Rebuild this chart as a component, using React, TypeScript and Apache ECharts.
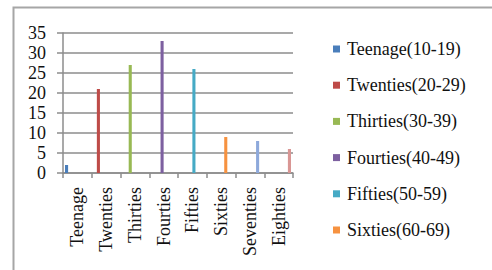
import React, { useEffect, useRef } from "react";
import * as echarts from "echarts";

const categories = ["Teenage", "Twenties", "Thirties", "Fourties", "Fifties", "Sixties", "Seventies", "Eighties"];
const seriesNames = [
  "Teenage(10-19)",
  "Twenties(20-29)",
  "Thirties(30-39)",
  "Fourties(40-49)",
  "Fifties(50-59)",
  "Sixties(60-69)",
  "Seventies(70-79)",
  "Eighties(80-89)",
];
const values = [2, 21, 27, 33, 26, 9, 8, 6];
const colors = ["#4A7EBB", "#BE4B48", "#98B954", "#7D60A0", "#46AAC5", "#F69240", "#8EA9DB", "#D99694"];
const legendShownCount = 6;
const yTicks = { min: 0, max: 35, interval: 5 };

const FONT = "Liberation Serif";

export default function App() {
  const ref = useRef<HTMLDivElement>(null);
  useEffect(() => {
    if (!ref.current) return;
    const chart = echarts.init(ref.current, null, { renderer: "svg" });
    const series = seriesNames.map((name, i) => ({
      name,
      type: "bar",
      data: values.map((v, j) => (j === i ? v : "-")),
      itemStyle: { color: colors[i] },
      barGap: "0%",
      barCategoryGap: "14%",
    }));
    const legendTop = 49;
    const legendStep = 36.2;
    const legendItems: any[] = [];
    for (let i = 0; i < legendShownCount; i++) {
      const cy = legendTop + legendStep * i;
      legendItems.push({
        type: "rect",
        shape: { x: 333, y: cy - 3.5, width: 7, height: 7 },
        style: { fill: colors[i] },
        silent: true,
      });
      legendItems.push({
        type: "text",
        x: 347,
        y: cy,
        style: {
          text: seriesNames[i],
          fill: "#111",
          fontFamily: FONT,
          fontSize: 18,
          verticalAlign: "middle",
          align: "left",
        },
        silent: true,
      });
    }
    chart.setOption({
      animation: false,
      color: colors,
      textStyle: { fontFamily: FONT, fontSize: 18 },
      graphic: [
        {
          type: "rect",
          left: 11,
          top: 5,
          shape: { x: 0, y: 0, width: 520, height: 300 },
          style: { fill: "none", stroke: "#a6a6a6", lineWidth: 2 },
          silent: true,
        },
        ...legendItems,
      ],
      grid: { left: 63, right: 199, top: 33, bottom: 97, containLabel: false },
      legend: { show: false, data: seriesNames },
      xAxis: {
        type: "category",
        data: categories,
        axisLine: { show: true, lineStyle: { color: "#8c8c8c", width: 1.5 } },
        axisTick: { show: true, length: 5, lineStyle: { color: "#8c8c8c", width: 1.5 } },
        axisLabel: { rotate: 90, margin: 14, fontFamily: FONT, fontSize: 18, color: "#111", interval: 0 },
      },
      yAxis: {
        type: "value",
        min: yTicks.min,
        max: yTicks.max,
        interval: yTicks.interval,
        axisLine: { show: true, lineStyle: { color: "#8c8c8c", width: 1.5 } },
        axisTick: { show: true, length: 6, lineStyle: { color: "#8c8c8c", width: 1.5 } },
        splitLine: { show: true, lineStyle: { color: "#8c8c8c", width: 1.5 } },
        axisLabel: { margin: 17, fontFamily: FONT, fontSize: 18, color: "#111" },
      },
      series,
    });
    return () => chart.dispose();
  }, []);
  return (
    <div
      ref={ref}
      style={{ position: "fixed", left: 0, top: 0, width: 492, height: 270, background: "#fff" }}
    />
  );
}
